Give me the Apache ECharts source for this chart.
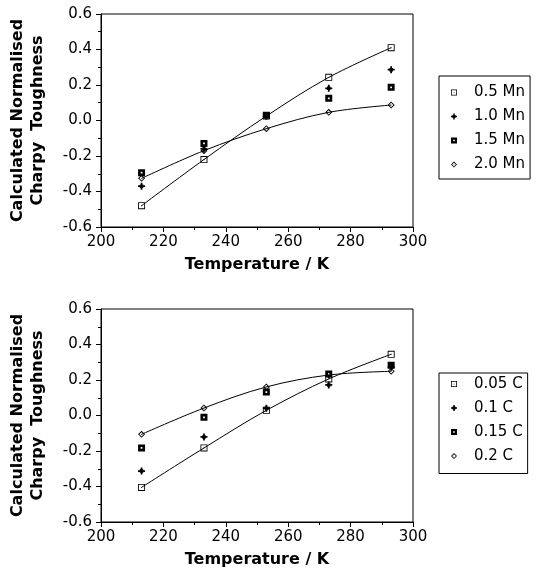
<!DOCTYPE html>
<html><head><meta charset="utf-8">
<script src="https://cdn.jsdelivr.net/npm/echarts@6/dist/echarts.min.js"></script>
<style>html,body{margin:0;padding:0;background:#fff}#c{width:543px;height:574px}</style>
</head><body><div id="c"></div>
<script>
// Data
const temps = [213, 233, 253, 273, 293];
const xTicks = [200, 220, 240, 260, 280, 300];
const yTicks = [-0.6, -0.4, -0.2, 0.0, 0.2, 0.4, 0.6];

const mnNames = ['0.5 Mn', '1.0 Mn', '1.5 Mn', '2.0 Mn'];
const mn05 = [-0.48, -0.22, 0.025, 0.243, 0.41];
const mn10 = [-0.37, -0.16, 0.024, 0.181, 0.286];
const mn15 = [-0.294, -0.129, 0.03, 0.125, 0.187];
const mn20 = [-0.326, -0.17, -0.046, 0.046, 0.087];

const cNames = ['0.05 C', '0.1 C', '0.15 C', '0.2 C'];
const c005 = [-0.405, -0.183, 0.029, 0.206, 0.345];
const c01 = [-0.313, -0.121, 0.041, 0.172, 0.272];
const c015 = [-0.183, -0.01, 0.132, 0.234, 0.283];
const c02 = [-0.106, 0.042, 0.161, 0.228, 0.249];

// Symbols
const symOpenSq = 'path://M0 0H8V8H0Z M1 1V7H7V1Z M3.5 3.5H4.5V4.5H3.5Z';
const symPlus = 'path://M3 0H5V2H6V3H8V5H6V6H5V8H3V6H2V5H0V3H2V2H3Z';
const symFillSq = 'path://M0 0H8V8H0Z M3 3V5H5V3Z';
const symDiamond = 'path://M4 0L8 4L4 8L0 4Z M4 1.5L1.5 4L4 6.5L6.5 4Z M3.6 3.6H4.4V4.4H3.6Z';
const syms = [symOpenSq, symPlus, symFillSq, symDiamond];

const pair = arr => arr.map((v, i) => [temps[i], v]);

const fontTick = {fontFamily: 'DejaVu Sans', fontSize: 15, color: '#000'};
const fontTitle = {fontFamily: 'DejaVu Sans', fontSize: 16, fontWeight: 'bold', color: '#000'};

function xAxis(gi) {
  return {
    type: 'value', gridIndex: gi, min: 200, max: 300, interval: 20,
    axisLine: {show: true, onZero: false, lineStyle: {color: '#000', width: 1}},
    axisTick: {show: true, inside: false, length: 5, lineStyle: {color: '#000'}},
    minorTick: {show: true, splitNumber: 2, length: 3, lineStyle: {color: '#000'}},
    splitLine: {show: false},
    axisLabel: Object.assign({margin: 8}, fontTick),
    name: 'Temperature / K', nameLocation: 'middle', nameGap: 30,
    nameTextStyle: fontTitle
  };
}
function yAxis(gi) {
  return {
    type: 'value', gridIndex: gi, min: -0.6, max: 0.6, interval: 0.2,
    axisLine: {show: true, onZero: false, lineStyle: {color: '#000', width: 1}},
    axisTick: {show: true, inside: false, length: 5, lineStyle: {color: '#000'}},
    minorTick: {show: true, splitNumber: 2, length: 3, lineStyle: {color: '#000'}},
    splitLine: {show: false},
    axisLabel: Object.assign({margin: 9, formatter: v => (Math.abs(v) < 1e-9 ? '0.0' : v.toFixed(1))}, fontTick),
    name: 'Calculated Normalised\nCharpy  Toughness', nameLocation: 'middle', nameGap: 53,
    nameTextStyle: Object.assign({lineHeight: 20, align: 'center'}, fontTitle)
  };
}

function makeSeries(names, arrs, gi, lined) {
  return names.map((n, i) => ({
    name: n, type: 'line', xAxisIndex: gi, yAxisIndex: gi,
    data: pair(arrs[i]),
    symbol: syms[i], symbolSize: 7,
    itemStyle: {color: '#000', borderWidth: 0},
    lineStyle: {color: '#000', width: 1, opacity: lined[i] ? 1 : 0},
    smooth: 0.35,
    silent: true, animation: false
  }));
}

const series = [].concat(
  makeSeries(mnNames, [mn05, mn10, mn15, mn20], 0, [true, false, false, true]),
  makeSeries(cNames, [c005, c01, c015, c02], 1, [true, false, false, true])
);

const legendBase = {
  orient: 'vertical', left: 439, itemWidth: 6, itemHeight: 6, itemGap: 9,
  borderColor: '#000', borderWidth: 1, borderRadius: 0,
  textStyle: {fontFamily: 'DejaVu Sans', fontSize: 15, color: '#000', lineHeight: 15, padding: [0, 0, 0, 12]},
  inactiveColor: '#000', selectedMode: false
};

const option = {
  backgroundColor: '#fff',
  animation: false,
  grid: [
    {left: 100, top: 14, width: 313, height: 213, show: true, borderColor: '#000', borderWidth: 1, backgroundColor: 'transparent'},
    {left: 100, top: 309, width: 313, height: 213, show: true, borderColor: '#000', borderWidth: 1, backgroundColor: 'transparent'}
  ],
  xAxis: [xAxis(0), xAxis(1)],
  yAxis: [yAxis(0), yAxis(1)],
  legend: [
    Object.assign({}, legendBase, {top: 76, padding: [9, 5, 7, 12],
      data: mnNames.map((n, i) => ({name: n, icon: syms[i]}))}),
    Object.assign({}, legendBase, {top: 373, padding: [3.5, 5, 10, 12],
      data: cNames.map((n, i) => ({name: n, icon: syms[i]}))})
  ],
  series: series
};

const chart = echarts.init(document.getElementById('c'), null, {renderer: 'canvas'});
chart.setOption(option);
</script>
</body></html>
